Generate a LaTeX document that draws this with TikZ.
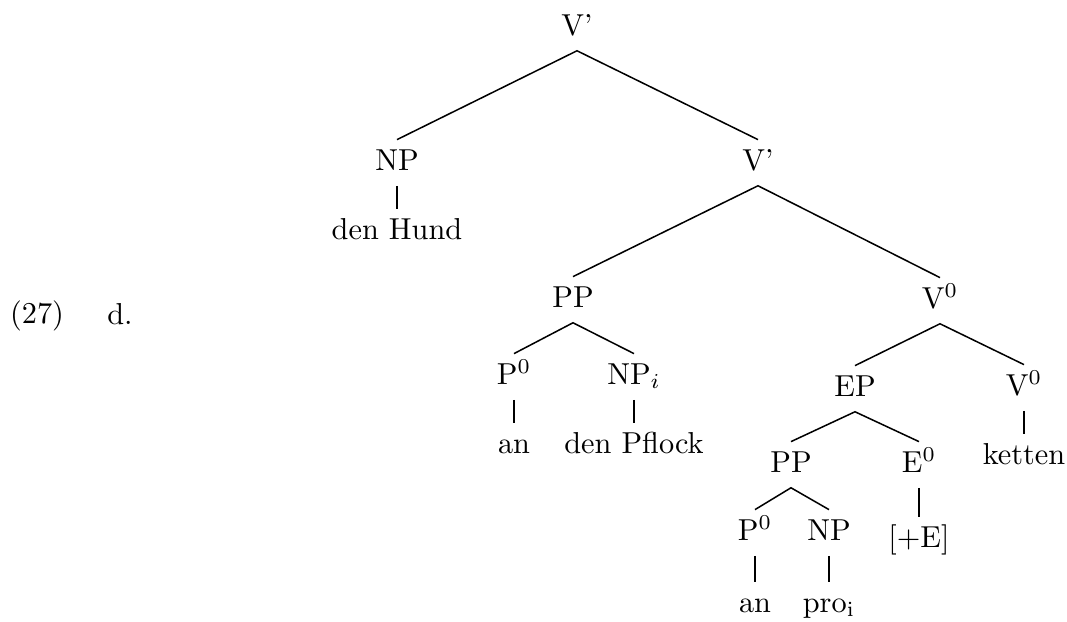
\documentclass[tikz,border=0pt]{standalone}
\begin{document}
\begin{tikzpicture}[x=0.33pt,y=-0.33pt,
  tn/.style={anchor=base, inner xsep=0pt, inner ysep=3pt, text height=6.83pt, text depth=2pt, font=\fontsize{10}{12}\selectfont},
  br/.style={line width=0.5pt}]
\useasboundingbox (0,0) rectangle (1067,621);
\node[tn] (ex) at (37,323) {(27)};
\node[tn] (d) at (120,324) {d.};
\node[tn] (vtop) at (577,35) {V'};
\node[tn] (np1) at (397,170) {NP};
\node[tn] (hund) at (397,239) {den Hund};
\node[tn] (vbar) at (758,170) {V'};
\node[tn] (pp1) at (573,307) {PP};
\node[tn] (v0a) at (940,308) {V$^0$};
\node[tn] (p0a) at (514,384) {P$^0$};
\node[tn] (npi) at (634,384) {NP$_i$};
\node[tn] (an1) at (514,453) {an};
\node[tn] (pflock) at (634,453) {den Pflock};
\node[tn] (ep) at (855,396) {EP};
\node[tn] (v0b) at (1024,395) {V$^0$};
\node[tn] (ketten) at (1024,464) {ketten};
\node[tn] (pp2) at (791,472) {PP};
\node[tn] (e0) at (919,472) {E$^0$};
\node[tn] (pluse) at (919,547) {[+E]};
\node[tn] (p0c) at (755,540) {P$^0$};
\node[tn] (npc) at (829,540) {NP};
\node[tn] (an2) at (755,612) {an};
\node[tn] (pro) at (829,612) {pro$_{\mathrm{i}}$};
\draw[br] (np1.north) -- (vtop.south) -- (vbar.north);
\draw[br] (np1.south) -- (hund.north);
\draw[br] (pp1.north) -- (vbar.south) -- (v0a.north);
\draw[br] (p0a.north) -- (pp1.south) -- (npi.north);
\draw[br] (p0a.south) -- (an1.north);
\draw[br] (npi.south) -- (pflock.north);
\draw[br] (ep.north) -- (v0a.south) -- (v0b.north);
\draw[br] (v0b.south) -- (ketten.north);
\draw[br] (pp2.north) -- (ep.south) -- (e0.north);
\draw[br] (e0.south) -- (pluse.north);
\draw[br] (p0c.north) -- (pp2.south) -- (npc.north);
\draw[br] (p0c.south) -- (an2.north);
\draw[br] (npc.south) -- (pro.north);
\end{tikzpicture}
\end{document}
